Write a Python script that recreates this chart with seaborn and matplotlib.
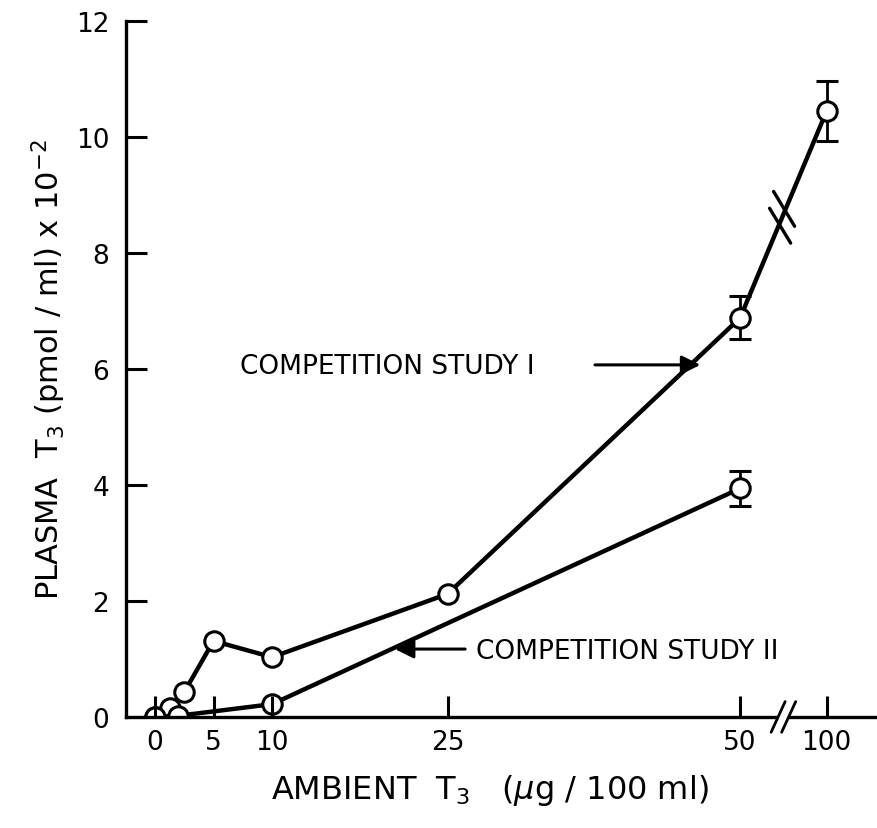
import numpy as np
import pandas as pd
import matplotlib
matplotlib.use("Agg")
import matplotlib.pyplot as plt
import seaborn as sns
from matplotlib.transforms import blended_transform_factory

# ---- data ----
study1_x = [0, 1.25, 2.5, 5, 10, 25, 50, 100]
study1_y = [0.0, 0.15, 0.43, 1.31, 1.03, 2.12, 6.88, 10.45]
study1_err_x = [50, 100]
study1_err = [0.37, 0.52]

study2_x = [0, 2, 10, 50]
study2_y = [0.0, 0.02, 0.22, 3.94]
study2_err_x = [50]
study2_err = [0.30]

x_ticks = [0, 5, 10, 25, 50, 100]
x_ticklabels = ["0", "5", "10", "25", "50", "100"]
y_ticks = [0, 2, 4, 6, 8, 10, 12]

BREAK_POS = 57.4  # display position used for 100 (axis is broken between 50 and 100)


def pos(x):
    return np.where(np.asarray(x, dtype=float) > 50, BREAK_POS, np.asarray(x, dtype=float))


df = pd.concat([
    pd.DataFrame({"study": "I", "x": study1_x, "y": study1_y}),
    pd.DataFrame({"study": "II", "x": study2_x, "y": study2_y}),
])
df["xpos"] = pos(df["x"])

sns.set_style("white")
plt.rcParams["font.family"] = ["DejaVu Sans"]
plt.rcParams["text.color"] = "black"
plt.rcParams["axes.labelcolor"] = "black"

fig = plt.figure(figsize=(8.77, 8.29), dpi=100)
ax = fig.add_axes([0.1437, 0.134, 0.8563, 0.8395])

for st in ["I", "II"]:
    sub = df[df["study"] == st]
    sns.lineplot(data=sub, x="xpos", y="y", ax=ax, color="black", lw=3.2,
                 marker="o", markersize=14, markerfacecolor="white",
                 markeredgecolor="black", markeredgewidth=2.2, sort=True,
                 zorder=2)

ax.errorbar(pos(study1_err_x), [study1_y[study1_x.index(v)] for v in study1_err_x],
            yerr=study1_err, fmt="none", ecolor="black", elinewidth=2,
            capsize=8, capthick=2.2, zorder=1.9)
ax.errorbar(pos(study2_err_x), [study2_y[study2_x.index(v)] for v in study2_err_x],
            yerr=study2_err, fmt="none", ecolor="black", elinewidth=2,
            capsize=8, capthick=2.2, zorder=1.9)

ax.set_xlim(-2.48, 61.7)
ax.set_ylim(0, 12)
ax.set_xticks(pos(x_ticks))
ax.set_xticklabels(x_ticklabels)
ax.set_yticks(y_ticks)
ax.set_yticklabels([str(v) for v in y_ticks])

ax.set_axisbelow(False)
ax.tick_params(axis="both", direction="in", length=15, width=2.2, color="black",
               labelsize=19, labelcolor="black", bottom=True, left=True,
               top=False, right=False)
ax.tick_params(axis="x", pad=9)
ax.tick_params(axis="y", pad=12)

for s in ["top", "right"]:
    ax.spines[s].set_visible(False)
for s in ["left", "bottom"]:
    ax.spines[s].set_color("black")
    ax.spines[s].set_linewidth(2.4)

ax.set_xlabel("AMBIENT  T$_3$   ($\\mu$g / 100 ml)", fontsize=23, labelpad=12)
ax.set_ylabel("PLASMA  T$_3$ (pmol / ml) x 10$^{-2}$", fontsize=22, labelpad=6)
ax.xaxis.label.set_position((0.485, 0))

# axis break marks on x-axis
tr = blended_transform_factory(ax.transData, ax.transAxes)
bx = 53.7
ax.add_patch(plt.Rectangle((bx - 0.45, -0.01), 0.9, 0.02, transform=tr,
                           facecolor="white", edgecolor="none", zorder=5, clip_on=False))
for dx in (-0.45, 0.45):
    ax.plot([bx + dx - 0.6, bx + dx + 0.6], [-0.022, 0.022], transform=tr,
            color="black", lw=2, zorder=6, clip_on=False)

# break marks on the study I line between 50 and 100
for cx, cy in ((53.76, 8.76), (53.42, 8.47)):
    ax.plot([cx - 0.9, cx + 0.9], [cy + 0.30, cy - 0.30],
            color="black", lw=2.4, zorder=6)

# annotations
ax.annotate("", xy=(46.6, 6.07), xytext=(37.6, 6.07),
            arrowprops=dict(arrowstyle="-|>", color="black", lw=2.2,
                            mutation_scale=28, shrinkA=0, shrinkB=0))
ax.text(7.3, 6.05, "COMPETITION STUDY I", fontsize=19, va="center", ha="left")

ax.annotate("", xy=(20.5, 1.17), xytext=(26.5, 1.17),
            arrowprops=dict(arrowstyle="-|>", color="black", lw=2.2,
                            mutation_scale=28, shrinkA=0, shrinkB=0))
ax.text(27.4, 1.13, "COMPETITION STUDY II", fontsize=19, va="center", ha="left")

fig.savefig("out.png", dpi=100)
